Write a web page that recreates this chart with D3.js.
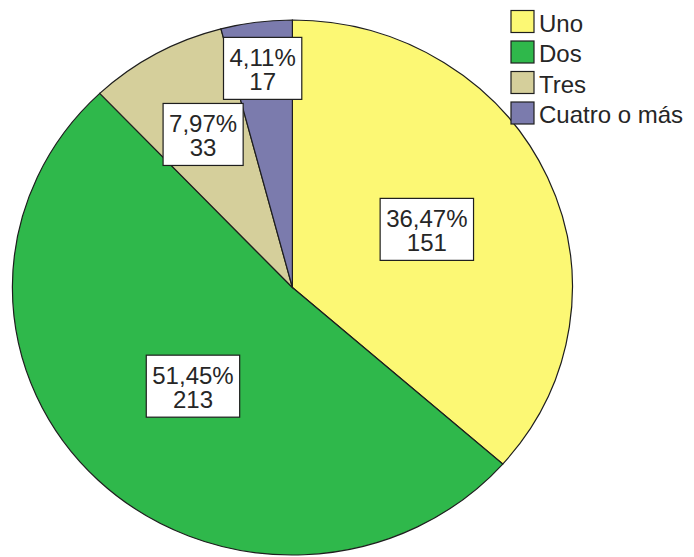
<!DOCTYPE html>
<html>
<head>
<meta charset="utf-8">
<script src="https://cdn.jsdelivr.net/npm/d3@7"></script>
<style>
  body { margin: 0; background: #fff; }
  text { font-family: "Liberation Sans", Arial, sans-serif; fill: #262626; }
</style>
</head>
<body>
<script>
// chart data
var categories = ["Uno", "Dos", "Tres", "Cuatro o más"];
var counts = [151, 213, 33, 17];
var percentLabels = ["36,47%", "51,45%", "7,97%", "4,11%"];
var colors = ["#fcf874", "#2fb84b", "#d5cf9b", "#7b7bad"];

// layout
var svgWidth = 694, svgHeight = 557;
var cx = 292.4, cy = 287.5, rx = 280, ry = 267.5;
// how far out each label sits (fraction of radius)
var labelRadius = [0.527, 0.512, 0.655, 0.826];

var svg = d3.select("body")
  .append("svg")
    .attr("width", svgWidth)
    .attr("height", svgHeight);

var pie = d3.pie().sort(null).value(function(d){ return d; });
var arcs = pie(counts);

var arc = d3.arc().innerRadius(0).outerRadius(ry);

// pie is slightly wider than tall, so stretch it
var pieG = svg.append("g")
    .attr("transform", "translate(" + cx + "," + cy + ") scale(" + (rx / ry) + ",1)");

pieG.selectAll("path")
  .data(arcs)
  .enter()
  .append("path")
    .attr("d", arc)
    .attr("fill", function(d, i){ return colors[i]; })
    .attr("stroke", "#1e1e1e")
    .attr("stroke-width", 1.2)
    .attr("vector-effect", "non-scaling-stroke");

// slice labels
var labels = svg.append("g");

arcs.forEach(function(d, i){
  var a = (d.startAngle + d.endAngle) / 2;
  var lx = cx + rx * labelRadius[i] * Math.sin(a);
  var ly = cy - ry * labelRadius[i] * Math.cos(a);

  var g = labels.append("g");
  var rect = g.append("rect")
      .attr("fill", "#fff")
      .attr("stroke", "#1e1e1e")
      .attr("stroke-width", 1.2);

  var t1 = g.append("text")
      .attr("x", lx).attr("y", ly - 2.5)
      .attr("text-anchor", "middle")
      .style("font-size", "24px")
      .text(percentLabels[i]);
  var t2 = g.append("text")
      .attr("x", lx).attr("y", ly + 21.5)
      .attr("text-anchor", "middle")
      .style("font-size", "24px")
      .text(counts[i]);

  var w = Math.max(t1.node().getComputedTextLength(), t2.node().getComputedTextLength()) + 12;
  rect.attr("x", lx - w / 2)
      .attr("y", ly - 31)
      .attr("width", w)
      .attr("height", 62);
});

// legend
var legend = svg.append("g")
    .attr("transform", "translate(511,10.5)");

var item = legend.selectAll(".item")
  .data(categories)
  .enter()
  .append("g")
    .attr("class", "item")
    .attr("transform", function(d, i){ return "translate(0," + (i * 30.5) + ")"; });

item.append("rect")
    .attr("width", 23)
    .attr("height", 22)
    .attr("fill", function(d, i){ return colors[i]; })
    .attr("stroke", "#1e1e1e")
    .attr("stroke-width", 1.2);

item.append("text")
    .attr("x", 28)
    .attr("y", 21)
    .style("font-size", "24px")
    .text(function(d){ return d; });
</script>
</body>
</html>
